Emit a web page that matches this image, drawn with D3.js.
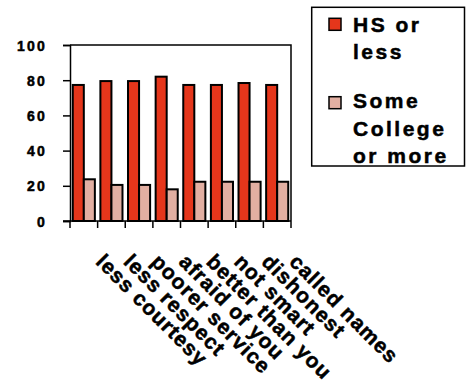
<!DOCTYPE html>
<html>
<head>
<meta charset="utf-8">
<script src="https://cdn.jsdelivr.net/npm/d3@7"></script>
<style>
  html, body { margin: 0; padding: 0; background: #fff; }
  svg { display: block; font-family: "Liberation Sans", Arial, sans-serif; font-weight: bold; }
</style>
</head>
<body>
<svg id="chart" width="467" height="383"></svg>
<script>
// Survey responses: percentage reporting each kind of treatment, by education
const categories = ["less courtesy", "less respect", "poorer service", "afraid of you",
                    "better than you", "not smart", "dishonest", "called names"];
const hsOrLess = [77.3, 79.5, 79.5, 82, 77.3, 77.3, 78.4, 77.3];
const someCollege = [23.7, 20.5, 20.5, 18, 22.3, 22.3, 22.3, 22.3];
const seriesNames = [["HS or", "less"], ["Some", "College", "or more"]];
const seriesColors = ["#e5361b", "#e2afa2"];
const yTicks = [0, 20, 40, 60, 80, 100];

const svg = d3.select("#chart");
const plot = { left: 70, right: 291, top: 45, bottom: 221 };

const x = d3.scaleBand().domain(categories).range([plot.left, plot.right]).paddingInner(0).paddingOuter(0);
const inner = d3.scaleBand().domain([0, 1]).range([0, x.bandwidth()]).paddingInner(0).paddingOuter(0.25);
const y = d3.scaleLinear().domain([0, 100]).range([plot.bottom, plot.top]);

// plot frame (top and right edges)
svg.append("path")
  .attr("d", `M${plot.left},${plot.top}H${plot.right}V${plot.bottom}`)
  .attr("fill", "none").attr("stroke", "#000").attr("stroke-width", 1.5);

// bars
const series = [hsOrLess, someCollege];
series.forEach((vals, si) => {
  svg.append("g").selectAll("rect").data(vals).join("rect")
    .attr("x", (d, i) => x(categories[i]) + inner(si))
    .attr("y", d => y(d))
    .attr("width", inner.bandwidth())
    .attr("height", d => y(0) - y(d))
    .attr("fill", seriesColors[si])
    .attr("stroke", "#000")
    .attr("stroke-width", 2);
});

// heavy text style shared by all labels
function heavy(sel, size, spacing) {
  sel.attr("fill", "#000")
    .attr("stroke", "#000").attr("stroke-width", 0.5)
    .style("font-family", "'Liberation Sans', Arial, sans-serif")
    .style("font-weight", "bold")
    .style("font-size", size + "px")
    .style("letter-spacing", spacing + "px");
}

// y axis
const yAxis = svg.append("g").attr("transform", `translate(${plot.left},0)`)
  .call(d3.axisLeft(y).tickValues(yTicks).tickSize(7).tickPadding(0).tickFormat(d3.format("d")));
yAxis.select(".domain").attr("stroke", "#000").attr("stroke-width", 1.5);
yAxis.selectAll(".tick line").attr("stroke", "#000").attr("stroke-width", 1.5);
yAxis.selectAll(".tick text")
  .attr("x", -23).attr("dy", "0.36em")
  .call(heavy, 14, 2.2);

// x axis with ticks at category boundaries
const boundaries = categories.map(c => x(c)).concat([plot.right]);
const xAxisG = svg.append("g");
xAxisG.append("line")
  .attr("x1", plot.left - 7).attr("x2", plot.right)
  .attr("y1", plot.bottom).attr("y2", plot.bottom)
  .attr("stroke", "#000").attr("stroke-width", 1.5);
xAxisG.selectAll("line.tk").data(boundaries).join("line").attr("class", "tk")
  .attr("x1", d => d).attr("x2", d => d)
  .attr("y1", plot.bottom).attr("y2", plot.bottom + 7)
  .attr("stroke", "#000").attr("stroke-width", 1.5);

// rotated category labels
xAxisG.selectAll("text").data(categories).join("text")
  .attr("transform", d => `translate(${x(d) + x.bandwidth() / 2 + 11},${plot.bottom + 42}) rotate(45)`)
  .call(heavy, 21, 1.0)
  .text(d => d);

// legend
const legend = svg.append("g");
legend.append("rect")
  .attr("x", 311.7).attr("y", 7.3).attr("width", 152.8).attr("height", 158.7)
  .attr("fill", "#fff").attr("stroke", "#000").attr("stroke-width", 1.5);
const entryTop = [18.3, 96.7];
const entryBase = [31.7, 108];
seriesNames.forEach((lines, si) => {
  legend.append("rect")
    .attr("x", 329).attr("y", entryTop[si]).attr("width", 12).attr("height", 12)
    .attr("fill", seriesColors[si]).attr("stroke", "#000").attr("stroke-width", 1.5);
  const t = legend.append("text")
    .attr("x", 353).attr("y", entryBase[si])
    .call(heavy, 21, 2.5);
  lines.forEach((ln, li) => {
    t.append("tspan").attr("x", 353).attr("y", entryBase[si] + li * 27.5).text(ln);
  });
});
</script>
</body>
</html>
